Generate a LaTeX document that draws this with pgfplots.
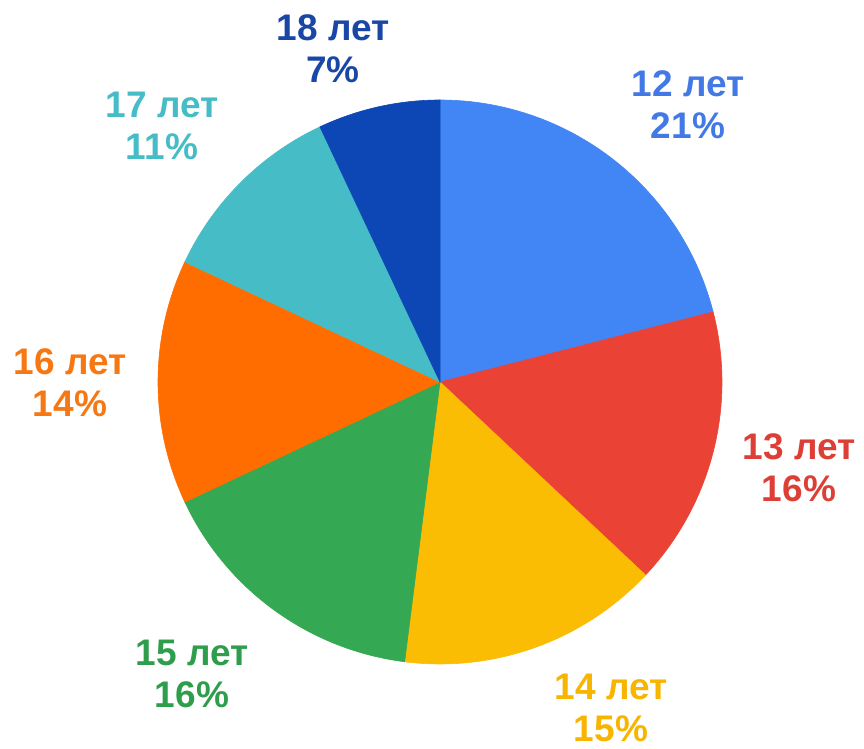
\documentclass[border=0pt]{standalone}
\usepackage{fontspec}
\setmainfont{Liberation Sans}
\usepackage{pgfplots}
\pgfplotsset{compat=1.18}
\definecolor{c12}{HTML}{4285F4}
\definecolor{c13}{HTML}{EA4335}
\definecolor{c14}{HTML}{FBBC04}
\definecolor{c15}{HTML}{34A853}
\definecolor{c16}{HTML}{FF6D01}
\definecolor{c17}{HTML}{46BDC6}
\definecolor{c18}{HTML}{0D47B5}
\definecolor{t12}{HTML}{4279E4}
\definecolor{t13}{HTML}{DD3F36}
\definecolor{t14}{HTML}{F7B500}
\definecolor{t15}{HTML}{2F9E4C}
\definecolor{t16}{HTML}{F77712}
\definecolor{t17}{HTML}{46BDC6}
\definecolor{t18}{HTML}{1A47A6}
\tikzset{lbl/.style={font=\fontsize{18.5}{21}\selectfont\bfseries, align=center, inner sep=0pt}}
% slice: start percent, end percent (cumulative), colour
\newcommand{\slice}[3]{%
  \addplot[fill=#3, draw=#3, line width=0.3pt, domain={90-3.6*(#2)}:{90-3.6*(#1)}, samples=90, variable=\t]
    ({440+282*cos(\t)}, {367+282*sin(\t)}) -- (axis cs:440,367) -- cycle;}
\begin{document}
\begin{tikzpicture}
\begin{axis}[
  scale only axis, width=432pt, height=374.5pt,
  xmin=0, xmax=864, ymin=0, ymax=749,
  hide axis, clip=false,
]
\path (rel axis cs:0,0) rectangle (rel axis cs:1,1);
% values: 21, 16, 15, 16, 14, 11, 7 (percent)
\slice{0}{21}{c12}
\slice{21}{37}{c13}
\slice{37}{52}{c14}
\slice{52}{68}{c15}
\slice{68}{82}{c16}
\slice{82}{93}{c17}
\slice{93}{100}{c18}
\node[lbl, text=t12] at (axis cs:688,644) {12 лет\\21\%};
\node[lbl, text=t13] at (axis cs:799,281) {13 лет\\16\%};
\node[lbl, text=t14] at (axis cs:611,41) {14 лет\\15\%};
\node[lbl, text=t15] at (axis cs:192,75) {15 лет\\16\%};
\node[lbl, text=t16] at (axis cs:70,366) {16 лет\\14\%};
\node[lbl, text=t17] at (axis cs:162,623) {17 лет\\11\%};
\node[lbl, text=t18] at (axis cs:333,700) {18 лет\\7\%};
\end{axis}
\end{tikzpicture}
\end{document}
